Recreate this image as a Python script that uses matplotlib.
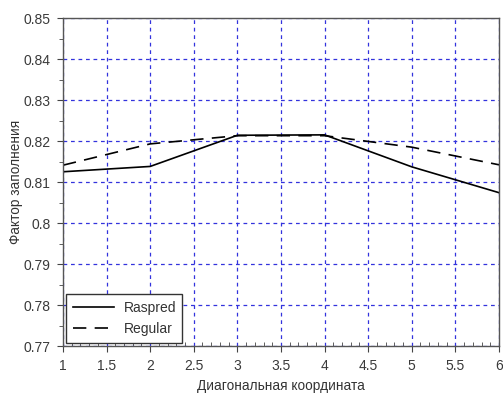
import matplotlib
matplotlib.use('Agg')
import matplotlib.pyplot as plt
from matplotlib.ticker import MultipleLocator

plt.rcParams['font.family'] = ['Liberation Sans', 'DejaVu Sans']

x = [1, 2, 3, 4, 5, 6]
raspred = [0.8125, 0.8138, 0.8214, 0.8215, 0.8137, 0.8074]
regular = [0.8141, 0.8193, 0.8213, 0.8213, 0.8185, 0.8142]

fig = plt.figure(figsize=(5.03, 3.95), dpi=100)
ax = fig.add_axes([0.1252, 0.124, 0.8668, 0.8304])

ax.plot(x, raspred, color='black', lw=1.2, label='Raspred')
ax.plot(x, regular, color='black', lw=1.2, ls=(0, (8, 5)), label='Regular')

ax.set_xlim(1, 6)
ax.set_ylim(0.77, 0.85)
ax.xaxis.set_major_locator(MultipleLocator(0.5))
ax.xaxis.set_minor_locator(MultipleLocator(0.1))
ax.yaxis.set_major_locator(MultipleLocator(0.01))
ax.yaxis.set_minor_locator(MultipleLocator(0.005))
ax.set_xticklabels([f'{v:g}' for v in ax.get_xticks()])
ax.set_yticklabels([f'{v:g}' for v in ax.get_yticks()])

ax.grid(True, which='major', color='#3333dd', ls=(0, (3, 3)), lw=0.9)
ax.tick_params(which='major', direction='out', length=4, color='#444444',
               labelsize=10, labelcolor='#3a3a3a', pad=5)
ax.tick_params(axis='x', which='minor', direction='in', length=3, color='#444444')
ax.tick_params(axis='y', which='minor', direction='out', length=3, color='#444444')
for s in ax.spines.values():
    s.set_color('#555555')
    s.set_linewidth(1.0)

ax.set_xlabel('Диагональная координата', fontsize=9.8, color='#333333', labelpad=5)
ax.set_ylabel('Фактор заполнения', fontsize=9.8, color='#333333', labelpad=0)

leg = ax.legend(loc='lower left', fontsize=10, handlelength=3.0, fancybox=False,
                framealpha=1, edgecolor='#333333', borderaxespad=0.25,
                labelspacing=0.55, borderpad=0.45, handletextpad=0.65)
leg.get_frame().set_linewidth(1.0)
for t in leg.get_texts():
    t.set_color('#333333')

fig.savefig('out.png', dpi=100)
